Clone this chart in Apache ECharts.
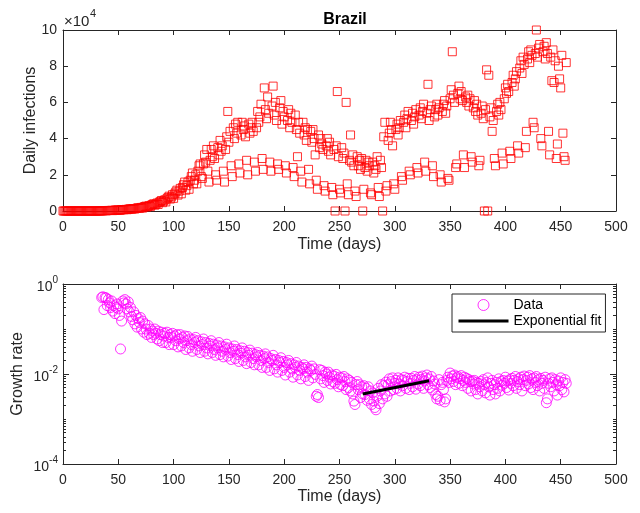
<!DOCTYPE html>
<html><head><meta charset="utf-8">
<script src="https://cdn.jsdelivr.net/npm/echarts@6/dist/echarts.min.js"></script>
<style>html,body{margin:0;padding:0;background:#fff}#c{width:640px;height:513px}</style>
</head><body><div id="c"></div>
<script>
// Daily infections, in units of 1e4, one value per day starting at day 0
const dailyInfections = [
0,0,0,0,0,0,0,
0,0,0,0,0,0,0,
0,0,0,0,0,0,0,
0,0,0,0,0,0,0,
0,0,0,0,0,0.005,0.005,
0.01,0.01,0.02,0.02,0.01,0.02,0.03,
0.03,0.03,0.04,0.02,0.03,0.05,0.05,
0.05,0.06,0.04,0.05,0.07,0.08,0.07,
0.08,0.09,0.07,0.1,0.11,0.12,0.1,
0.12,0.13,0.11,0.14,0.16,0.18,0.15,
0.17,0.2,0.16,0.22,0.25,0.27,0.22,
0.26,0.3,0.24,0.33,0.36,0.4,0.32,
0.38,0.44,0.36,0.48,0.52,0.58,0.46,
0.55,0.62,0.5,0.68,0.75,0.82,0.66,
0.78,0.9,0.7,0.95,1.05,1.15,0.88,
1.1,1.25,0.95,1.3,1.45,1.6,1.15,
1.4,1.6,1.2,1.7,1.9,2.1,1.5,
1.7,2.0,1.5,2.2,2.5,2.6,1.9,
1.8,2.6,3.1,2.7,3.4,2.2,1.6,
2.8,3.4,3.0,3.6,2.9,2.0,1.7,
3.5,3.1,3.9,3.3,3.6,2.2,1.6,
3.4,4.1,5.5,3.8,4.4,2.5,1.9,
4.6,4.0,4.8,4.3,4.9,2.6,2.1,
4.2,4.9,4.5,4.7,4.1,2.8,2.0,
4.8,4.3,4.6,4.9,4.4,2.7,2.2,
4.6,5.5,4.9,5.2,5.9,2.9,2.3,
6.8,5.6,5.1,6.3,5.4,2.7,2.2,
5.8,6.9,5.3,6.0,5.0,2.6,2.3,
5.7,6.1,4.8,5.5,5.2,2.5,2.1,
5.0,5.6,4.6,5.4,4.9,2.4,1.9,
5.3,4.5,3.0,4.9,4.3,2.2,1.6,
4.9,4.2,4.6,3.9,4.5,2.3,1.5,
4.4,3.8,4.5,4.0,3.1,1.7,1.2,
4.2,3.5,4.0,3.7,3.4,1.4,1.1,
3.6,4.0,3.3,3.8,3.1,1.3,0.9,
3.4,0,3.6,6.6,3.0,1.2,1.0,
3.5,2.9,3.2,0,6.0,1.5,0.9,
2.8,4.2,2.7,3.1,2.5,1.1,0.8,
3.0,2.5,2.8,2.3,2.9,0,1.2,
2.4,2.8,2.2,2.7,2.5,1.0,0.9,
2.7,2.1,2.5,2.3,3.0,1.3,0.8,
2.8,2.4,0,4.1,4.9,1.1,1.4,
3.9,4.3,4.9,4.5,3.6,1.5,1.2,
4.5,4.8,4.2,4.6,5.0,1.9,1.7,
4.9,5.3,4.6,5.1,5.5,2.2,2.0,
5.0,5.4,4.8,5.2,5.6,2.4,2.1,
5.3,5.7,5.1,5.5,5.9,2.7,2.2,
5.4,7.0,5.0,5.6,5.8,2.5,1.9,
5.2,5.6,5.9,5.3,5.7,2.0,1.6,
5.5,5.9,6.1,5.4,5.8,1.8,1.7,
6.2,6.7,8.8,6.4,6.0,2.4,2.6,
6.5,6.9,6.2,6.6,6.1,3.1,2.4,
6.3,6.0,6.4,5.8,6.2,3.0,2.7,
5.7,6.1,5.5,5.9,5.3,2.5,2.8,
5.4,5.8,5.1,0,5.6,7.8,0,
7.5,5.2,5.7,4.4,5.0,2.9,2.5,
5.5,5.9,5.3,6.0,5.6,3.2,2.6,
6.2,6.8,6.5,7.0,6.6,3.3,2.9,
7.1,7.5,6.9,7.3,7.7,3.6,3.2,
7.9,8.3,7.6,8.5,8.1,3.5,4.4,
8.4,8.8,8.2,8.9,8.6,4.9,4.6,
8.7,10.0,8.5,9.0,9.2,4.0,3.6,
8.8,9.1,8.4,9.3,8.7,4.4,3.1,
8.5,7.2,8.9,7.1,8.3,2.9,3.7,
8.0,7.3,6.8,8.6,4.3,3.0,2.8,
8.2
];

// Growth rate, one value per day starting at growthStartDay
const growthStartDay = 35;
const growthRate = [
0.5,0.52,0.27,0.5,0.49,0.33,0.45,
0.38,0.3,0.42,0.25,0.33,0.22,0.3,
0.36,0.28,0.2,0.036,0.15,0.42,0.38,
0.45,0.36,0.28,0.4,0.24,0.3,0.19,
0.16,0.24,0.13,0.2,0.11,0.17,0.14,
0.18,0.1,0.15,0.085,0.13,0.1,0.075,
0.12,0.08,0.1,0.065,0.09,0.075,0.1,
0.08,0.06,0.09,0.055,0.075,0.085,0.05,
0.07,0.08,0.05,0.085,0.065,0.045,0.075,
0.065,0.08,0.045,0.07,0.055,0.075,0.04,
0.06,0.075,0.042,0.065,0.05,0.07,0.035,
0.055,0.068,0.038,0.06,0.045,0.032,0.058,
0.05,0.065,0.035,0.055,0.042,0.03,0.052,
0.045,0.06,0.032,0.05,0.038,0.028,0.048,
0.042,0.055,0.03,0.046,0.035,0.026,0.044,
0.038,0.05,0.027,0.042,0.032,0.024,0.04,
0.035,0.046,0.025,0.038,0.03,0.021,0.036,
0.032,0.042,0.022,0.035,0.027,0.019,0.033,
0.029,0.038,0.02,0.032,0.024,0.017,0.03,
0.026,0.034,0.018,0.029,0.022,0.016,0.027,
0.024,0.03,0.016,0.026,0.02,0.014,0.025,
0.022,0.028,0.014,0.024,0.018,0.012,0.022,
0.02,0.026,0.013,0.021,0.016,0.011,0.02,
0.018,0.023,0.012,0.019,0.014,0.0095,0.018,
0.016,0.02,0.011,0.017,0.013,0.0085,0.016,
0.014,0.018,0.0095,0.015,0.012,0.0078,0.014,
0.013,0.016,0.0088,0.014,0.011,0.0072,0.013,
0.012,0.015,0.0082,0.013,0.0098,0.0032,0.0035,
0.003,0.0125,0.0078,0.012,0.0092,0.0065,0.011,
0.01,0.0072,0.011,0.0085,0.006,0.0095,0.0068,
0.009,0.0062,0.0098,0.0075,0.0052,0.0085,0.0058,
0.0082,0.0055,0.0088,0.0068,0.0045,0.0078,0.005,
0.0072,0.0042,0.0065,0.0036,0.0025,0.0021,0.0058,
0.0068,0.0045,0.0058,0.003,0.0052,0.0036,0.0055,
0.0035,0.0048,0.0026,0.0052,0.0028,0.0042,0.0021,
0.0038,0.0025,0.0018,0.0016,0.0032,0.0048,0.0022,
0.0042,0.0058,0.0028,0.0055,0.0036,0.0066,0.0032,
0.0058,0.0078,0.0042,0.0068,0.0082,0.0045,0.0062,
0.0072,0.0048,0.0082,0.006,0.0042,0.0075,0.0055,
0.0072,0.0085,0.0048,0.0068,0.008,0.0045,0.0062,
0.008,0.0052,0.0072,0.0088,0.0046,0.0075,0.006,
0.0085,0.0055,0.0075,0.009,0.0048,0.007,0.0082,
0.0095,0.0058,0.0078,0.005,0.0088,0.0044,0.007,
0.006,0.0035,0.0028,0.0032,0.0075,0.0026,0.0058,
0.0065,0.0045,0.0024,0.0028,0.0072,0.0085,0.0065,
0.0105,0.0078,0.009,0.0068,0.0095,0.0058,0.0082,
0.0088,0.0062,0.0078,0.0092,0.0055,0.0072,0.0085,
0.0065,0.008,0.0048,0.0075,0.0068,0.0042,0.007,
0.006,0.0072,0.0045,0.0065,0.0036,0.0062,0.0052,
0.0068,0.0042,0.0075,0.0058,0.0038,0.0065,0.0082,
0.0052,0.0034,0.0062,0.0072,0.0045,0.0058,0.0036,
0.0065,0.0048,0.0078,0.0042,0.0068,0.0056,0.0072,
0.0062,0.0085,0.005,0.007,0.0044,0.0075,0.0062,
0.008,0.0055,0.0072,0.0088,0.0048,0.0068,0.0078,
0.0058,0.0085,0.0042,0.0075,0.009,0.0055,0.0072,
0.0085,0.006,0.0092,0.005,0.0078,0.0045,0.0082,
0.0065,0.0088,0.0055,0.0075,0.0042,0.008,0.0062,
0.0072,0.0048,0.0085,0.0023,0.0028,0.0062,0.0078,
0.0052,0.0082,0.0065,0.0042,0.0075,0.0058,0.0034,
0.007,0.0055,0.0082,0.0045,0.0065,0.004,0.0075,
0.0062
];

// Exponential fit end points
const fitDays = [271, 331];
const fitValues = [0.0036, 0.0071];

const xMin = 0, xMax = 500, xStep = 50;
const infMin = 0, infMax = 10, infStep = 2;
const grMin = 1e-4, grMax = 1;

const FONT = 'Liberation Sans, Arial, Helvetica, sans-serif';
const AX = '#262626';

// log-axis tick positions (in decades)
const majorLog = [-4, -2, 0];
const minorLog = [];
for (let n = -4; n < 0; n++) { for (let k = 1; k <= 9; k++) { if (!(k === 1 && n % 2 === 0)) minorLog.push(n + Math.log10(k)); } }

const chart = echarts.init(document.getElementById('c'), null, {renderer: 'canvas'});

function xAxisDef(grid, pos, showLabel, name, gap) {
  return {
    type: 'value', gridIndex: grid, position: pos, min: xMin, max: xMax, interval: xStep,
    axisLine: {show: true, onZero: false, lineStyle: {color: AX, width: 1}},
    axisTick: {show: true, inside: true, length: 5, lineStyle: {color: AX}},
    axisLabel: {show: showLabel, fontSize: 14, fontFamily: FONT, color: AX, margin: 9},
    splitLine: {show: false},
    name: name || '', nameLocation: 'middle', nameGap: gap || 26, nameMoveOverlap: false,
    nameTextStyle: {fontSize: 16, fontFamily: FONT, color: AX}
  };
}
function tickOverlay(grid, pos, values, len) {
  return {
    type: 'value', gridIndex: grid, position: pos, min: -4, max: 0,
    axisLine: {show: false},
    axisTick: {show: true, inside: true, length: len, customValues: values, lineStyle: {color: AX}},
    axisLabel: {show: false},
    splitLine: {show: false}
  };
}

const option = {
  animation: false,
  backgroundColor: '#fff',
  title: {
    text: 'Brazil', left: 340, top: 7, textAlign: 'center',
    textStyle: {fontSize: 16, fontWeight: 'bold', fontFamily: FONT, color: '#000'}
  },
  graphic: [
    {type: 'text', left: 64, top: 14, style: {text: '×10', font: '15px ' + FONT, fill: AX}},
    {type: 'text', left: 90, top: 8, style: {text: '4', font: '11px ' + FONT, fill: AX}}
  ],
  grid: [
    {left: 63, top: 30, width: 553, height: 181},
    {left: 63, top: 284, width: 553, height: 180}
  ],
  xAxis: [
    xAxisDef(0, 'bottom', true, 'Time (days)', 26),
    xAxisDef(0, 'top', false),
    xAxisDef(1, 'bottom', true, 'Time (days)', 25),
    xAxisDef(1, 'top', false)
  ],
  yAxis: [
    {
      type: 'value', gridIndex: 0, position: 'left', min: infMin, max: infMax, interval: infStep,
      axisLine: {show: true, onZero: false, lineStyle: {color: AX}},
      axisTick: {show: true, inside: true, length: 5, lineStyle: {color: AX}},
      axisLabel: {fontSize: 14, fontFamily: FONT, color: AX, margin: 6},
      splitLine: {show: false},
      name: 'Daily infections', nameLocation: 'middle', nameGap: 24, nameMoveOverlap: false,
      nameTextStyle: {fontSize: 16, fontFamily: FONT, color: AX}
    },
    {
      type: 'value', gridIndex: 0, position: 'right', min: infMin, max: infMax, interval: infStep,
      axisLine: {show: true, onZero: false, lineStyle: {color: AX}},
      axisTick: {show: true, inside: true, length: 5, lineStyle: {color: AX}},
      axisLabel: {show: false}, splitLine: {show: false}
    },
    {
      type: 'log', logBase: 10, gridIndex: 1, position: 'left', min: grMin, max: grMax,
      axisLine: {show: true, onZero: false, lineStyle: {color: AX}},
      axisTick: {show: false},
      axisLabel: {
        fontFamily: FONT, color: AX, margin: 5,
        formatter: function (v) {
          const l = Math.log10(v), e = Math.round(l);
          if (Math.abs(l - e) > 1e-6 || e % 2 !== 0) return '';
          return '{b|10}{s|' + e + '}';
        },
        rich: {
          b: {fontSize: 14, fontFamily: FONT, color: AX, padding: [7, 0, 0, 0]},
          s: {fontSize: 10, fontFamily: FONT, color: AX, padding: [0, 0, 7, 0]}
        }
      },
      splitLine: {show: false},
      name: 'Growth rate', nameLocation: 'middle', nameGap: 37, nameMoveOverlap: false,
      nameTextStyle: {fontSize: 16, fontFamily: FONT, color: AX}
    },
    {
      type: 'log', logBase: 10, gridIndex: 1, position: 'right', min: grMin, max: grMax,
      axisLine: {show: true, onZero: false, lineStyle: {color: AX}},
      axisTick: {show: false}, axisLabel: {show: false}, splitLine: {show: false}
    },
    tickOverlay(1, 'left', majorLog, 6),
    tickOverlay(1, 'left', minorLog, 3),
    tickOverlay(1, 'right', majorLog, 6),
    tickOverlay(1, 'right', minorLog, 3)
  ],
  legend: {
    left: 452, top: 294, orient: 'vertical',
    itemWidth: 50, itemHeight: 11, itemGap: 2,
    padding: [4, 4, 4, 5],
    borderColor: AX, borderWidth: 1, backgroundColor: '#fff',
    textStyle: {fontSize: 14, fontFamily: FONT, color: '#000'},
    data: [
      {name: 'Data', itemStyle: {color: 'rgba(255,0,255,0)', borderColor: '#ff00ff', borderWidth: 1}},
      {name: 'Exponential fit', itemStyle: {opacity: 0}, lineStyle: {color: '#000', width: 3, opacity: 1}}
    ]
  },
  series: [
    {
      type: 'scatter', name: 'Infections', xAxisIndex: 0, yAxisIndex: 0,
      symbol: 'rect', symbolSize: 8, clip: false,
      itemStyle: {color: 'rgba(255,0,0,0)', borderColor: '#ff0000', borderWidth: 1},
      data: dailyInfections.map((v, i) => [i, v])
    },
    {
      type: 'scatter', name: 'Data', xAxisIndex: 2, yAxisIndex: 2,
      symbol: 'circle', symbolSize: 10, clip: false,
      itemStyle: {color: 'rgba(255,0,255,0)', borderColor: '#ff00ff', borderWidth: 1},
      data: growthRate.map((v, i) => [growthStartDay + i, v])
    },
    {
      type: 'line', name: 'Exponential fit', xAxisIndex: 2, yAxisIndex: 2,
      symbol: 'none', showSymbol: false,
      lineStyle: {color: '#000', width: 3}, itemStyle: {color: '#000'},
      data: fitDays.map((d, i) => [d, fitValues[i]])
    }
  ]
};
chart.setOption(option);
</script>
</body></html>
